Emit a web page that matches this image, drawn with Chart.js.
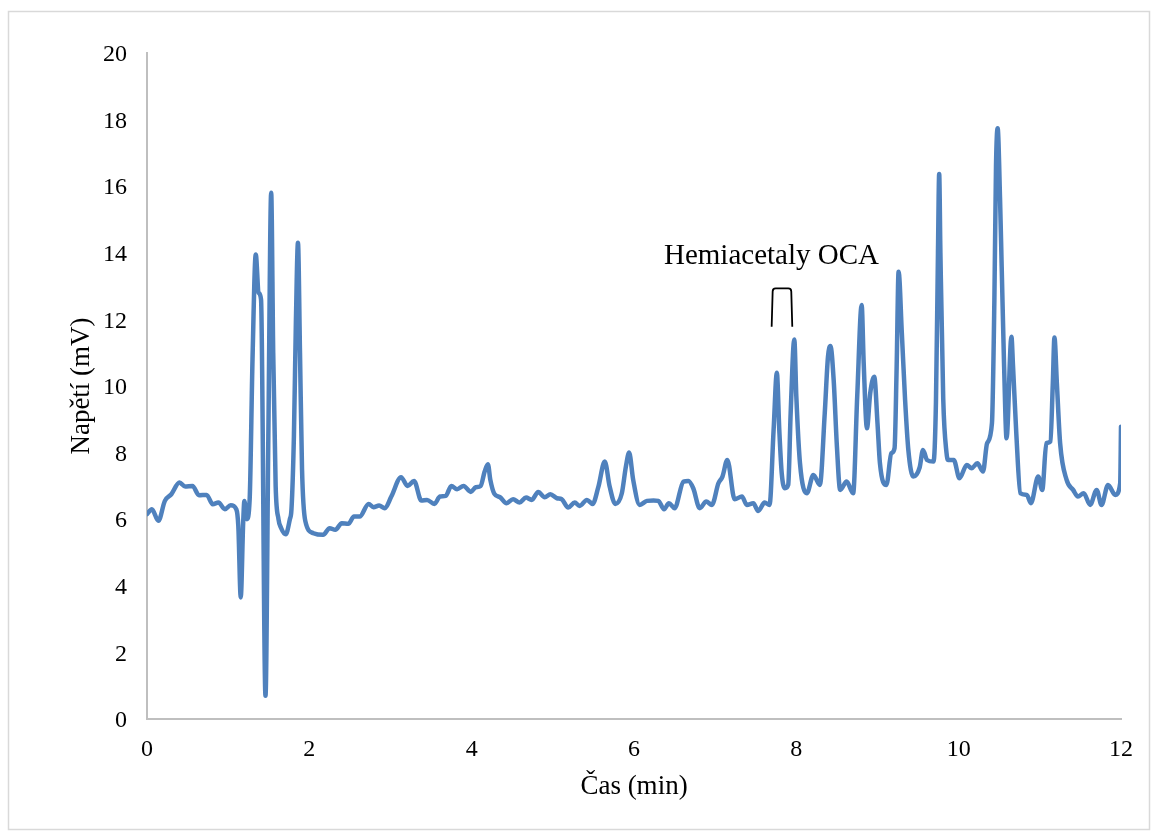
<!DOCTYPE html>
<html>
<head>
<meta charset="utf-8">
<script src="https://cdn.jsdelivr.net/npm/chart.js@4.4.1/dist/chart.umd.min.js"></script>
<style>
  html, body { margin: 0; padding: 0; background: #ffffff; }
  #wrap { position: relative; width: 1157px; height: 838px; }
</style>
</head>
<body>
<div id="wrap"><canvas id="c" width="1157" height="838"></canvas></div>
<script>
// ---- Data ----
const timeMin = [
  0.00, 0.06, 0.14, 0.22, 0.30, 0.40, 0.47, 0.56, 0.64, 0.735,
  0.81, 0.88, 0.96, 1.03, 1.10, 1.125, 1.155, 1.185, 1.20, 1.23,
  1.265, 1.30, 1.34, 1.375, 1.405, 1.46, 1.495, 1.53, 1.555, 1.585,
  1.62, 1.65, 1.71, 1.76, 1.78, 1.81, 1.835, 1.86, 1.885, 1.91,
  1.95, 2.05, 2.17, 2.25, 2.32, 2.40, 2.48, 2.55, 2.62, 2.73,
  2.79, 2.86, 2.93, 3.01, 3.13, 3.21, 3.29, 3.38, 3.45, 3.54,
  3.61, 3.68, 3.75, 3.82, 3.90, 3.99, 4.05, 4.11, 4.16, 4.20,
  4.23, 4.28, 4.35, 4.43, 4.51, 4.59, 4.67, 4.74, 4.82, 4.90,
  4.97, 5.05, 5.11, 5.19, 5.27, 5.33, 5.42, 5.49, 5.56, 5.64,
  5.70, 5.77, 5.85, 5.90, 5.94, 5.99, 6.07, 6.16, 6.24, 6.30,
  6.37, 6.43, 6.50, 6.61, 6.67, 6.73, 6.81, 6.89, 6.96, 7.04,
  7.09, 7.15, 7.24, 7.33, 7.39, 7.47, 7.53, 7.61, 7.67, 7.72,
  7.76, 7.79, 7.82, 7.86, 7.90, 7.93, 7.975, 8.00, 8.045, 8.13,
  8.21, 8.29, 8.35, 8.39, 8.42, 8.46, 8.50, 8.54, 8.62, 8.70,
  8.75, 8.805, 8.83, 8.87, 8.91, 8.96, 9.00, 9.03, 9.11, 9.17,
  9.21, 9.236, 9.26, 9.30, 9.34, 9.38, 9.44, 9.52, 9.56, 9.61,
  9.69, 9.72, 9.745, 9.76, 9.775, 9.81, 9.85, 9.87, 9.94, 10.01,
  10.10, 10.16, 10.23, 10.30, 10.35, 10.41, 10.44, 10.46, 10.48, 10.51,
  10.53, 10.56, 10.59, 10.65, 10.67, 10.71, 10.76, 10.84, 10.89, 10.98,
  11.03, 11.08, 11.13, 11.16, 11.18, 11.21, 11.25, 11.33, 11.41, 11.47,
  11.54, 11.62, 11.70, 11.76, 11.84, 11.93, 11.99, 12.00
];
const voltageMV = [
  6.15, 6.30, 5.95, 6.55, 6.75, 7.10, 6.98, 7.00, 6.72, 6.73,
  6.45, 6.50, 6.30, 6.42, 6.30, 5.80, 3.65, 5.90, 6.55, 6.00,
  6.60, 10.80, 13.95, 12.80, 12.60, 0.70, 8.50, 15.80, 11.00, 7.00,
  6.00, 5.75, 5.55, 6.00, 6.30, 8.50, 12.00, 14.30, 11.00, 7.50,
  5.95, 5.58, 5.53, 5.73, 5.68, 5.88, 5.86, 6.08, 6.08, 6.46,
  6.36, 6.41, 6.33, 6.68, 7.26, 7.00, 7.15, 6.56, 6.58, 6.46,
  6.68, 6.70, 7.00, 6.90, 7.00, 6.82, 6.96, 7.00, 7.43, 7.65,
  7.18, 6.76, 6.66, 6.48, 6.60, 6.50, 6.65, 6.58, 6.82, 6.66,
  6.75, 6.63, 6.60, 6.35, 6.50, 6.40, 6.58, 6.46, 6.96, 7.73,
  6.98, 6.46, 6.78, 7.58, 8.00, 7.18, 6.43, 6.55, 6.56, 6.55,
  6.30, 6.48, 6.33, 7.13, 7.15, 6.93, 6.33, 6.53, 6.43, 7.08,
  7.28, 7.78, 6.60, 6.68, 6.43, 6.48, 6.25, 6.50, 6.43, 8.68,
  10.40, 8.68, 7.38, 6.93, 7.03, 9.18, 11.40, 9.68, 7.68, 6.78,
  7.33, 7.03, 9.18, 10.88, 11.20, 10.18, 8.18, 6.88, 7.13, 6.78,
  9.68, 12.43, 10.68, 8.73, 9.78, 10.28, 8.88, 7.68, 7.03, 7.98,
  8.13, 10.58, 13.43, 11.58, 9.58, 8.08, 7.28, 7.56, 8.08, 7.78,
  7.73, 9.50, 14.00, 16.37, 14.00, 9.60, 8.00, 7.78, 7.78, 7.23,
  7.63, 7.53, 7.68, 7.43, 8.28, 8.88, 12.58, 16.60, 17.74, 15.60,
  13.58, 10.58, 8.43, 11.48, 10.58, 8.58, 6.78, 6.73, 6.48, 7.28,
  6.88, 8.28, 8.33, 10.08, 11.46, 10.08, 8.28, 7.18, 6.88, 6.68,
  6.78, 6.43, 6.88, 6.43, 7.03, 6.73, 7.08, 8.78
];
const xTickValues = [0, 2, 4, 6, 8, 10, 12];
const yTickValues = [0, 2, 4, 6, 8, 10, 12, 14, 16, 18, 20];
const xTitle = 'Čas (min)';
const yTitle = 'Napětí (mV)';
const annotationText = 'Hemiacetaly OCA';
// annotation anchor in data units (time, mV)
const annotTextPos = [7.694, 13.66];
const bracketLeftRight = [7.696, 7.95];
const bracketBottomTop = [11.78, 12.93];

const points = timeMin.map((t, i) => ({ x: t, y: voltageMV[i] }));
const SERIF = '"Liberation Serif", "Times New Roman", serif';

const framePlugin = {
  id: 'frame',
  beforeDraw(chart) {
    const ctx = chart.ctx;
    ctx.save();
    ctx.fillStyle = '#ffffff';
    ctx.fillRect(0, 0, chart.width, chart.height);
    ctx.strokeStyle = '#d9d9d9';
    ctx.lineWidth = 1.5;
    ctx.strokeRect(8.5, 11.5, 1141, 818);
    ctx.restore();
  }
};

const annotPlugin = {
  id: 'annot',
  afterDatasetsDraw(chart) {
    const ctx = chart.ctx;
    const xs = chart.scales.x, ys = chart.scales.y;
    ctx.save();
    ctx.fillStyle = '#000000';
    ctx.font = '29px ' + SERIF;
    ctx.textAlign = 'center';
    ctx.textBaseline = 'alphabetic';
    ctx.fillText(annotationText, xs.getPixelForValue(annotTextPos[0]), ys.getPixelForValue(annotTextPos[1]));
    const xl = xs.getPixelForValue(bracketLeftRight[0]);
    const xr = xs.getPixelForValue(bracketLeftRight[1]);
    const yb = ys.getPixelForValue(bracketBottomTop[0]);
    const yt = ys.getPixelForValue(bracketBottomTop[1]);
    const r = 3;
    ctx.strokeStyle = '#000000';
    ctx.lineWidth = 1.8;
    ctx.beginPath();
    ctx.moveTo(xl, yb);
    ctx.lineTo(xl + 1, yt + r);
    ctx.quadraticCurveTo(xl + 1, yt, xl + 1 + r, yt);
    ctx.lineTo(xr - 1 - r, yt);
    ctx.quadraticCurveTo(xr - 1, yt, xr - 1, yt + r);
    ctx.lineTo(xr, yb);
    ctx.stroke();
    ctx.restore();
  }
};

new Chart(document.getElementById('c'), {
  type: 'line',
  data: {
    datasets: [{
      data: points,
      borderColor: '#4F81BD',
      borderWidth: 4.5,
      pointRadius: 0,
      fill: false,
      cubicInterpolationMode: 'monotone',
      borderJoinStyle: 'round',
      borderCapStyle: 'round'
    }]
  },
  options: {
    responsive: false,
    animation: false,
    devicePixelRatio: 1,
    layout: { padding: { left: 0, right: 36, top: 53, bottom: 0 } },
    plugins: { legend: { display: false }, tooltip: { enabled: false } },
    scales: {
      x: {
        type: 'linear',
        min: 0, max: 12,
        afterBuildTicks: (s) => { s.ticks = xTickValues.map(v => ({ value: v })); },
        afterFit: (s) => { s.height = 119; },
        grid: { display: false, drawTicks: false },
        border: { display: true, color: '#bfbfbf', width: 2 },
        ticks: { color: '#000000', padding: 16, font: { family: SERIF, size: 24 }, maxRotation: 0 },
        title: { display: true, text: xTitle, color: '#000000', font: { family: SERIF, size: 27 }, padding: { top: 0, bottom: 35 } }
      },
      y: {
        type: 'linear',
        min: 0, max: 20,
        afterBuildTicks: (s) => { s.ticks = yTickValues.map(v => ({ value: v })); },
        afterFit: (s) => { s.width = 147; },
        grid: { display: false, drawTicks: false },
        border: { display: true, color: '#bfbfbf', width: 2 },
        ticks: { color: '#000000', padding: 20, labelOffset: 2, font: { family: SERIF, size: 24 } },
        title: { display: true, text: yTitle, color: '#000000', font: { family: SERIF, size: 27 }, padding: { top: 66, bottom: 0 } }
      }
    }
  },
  plugins: [framePlugin, annotPlugin]
});
</script>
</body>
</html>
